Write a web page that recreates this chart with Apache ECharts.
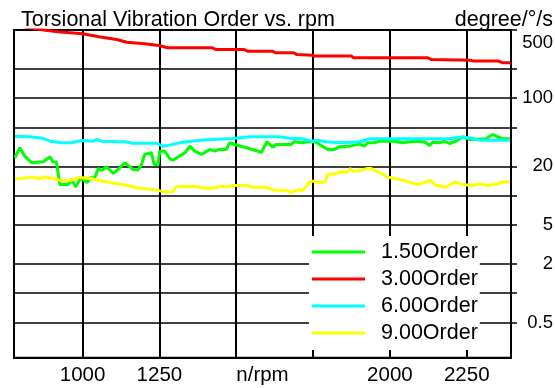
<!DOCTYPE html>
<html>
<head>
<meta charset="utf-8">
<script src="https://cdn.jsdelivr.net/npm/echarts@6/dist/echarts.min.js"></script>
<style>
html,body{margin:0;padding:0;background:#fff;}
#c{width:555px;height:388px;}
</style>
</head>
<body>
<div id="c"></div>
<script>
// ---- data ----
const titleText = 'Torsional Vibration Order vs. rpm';
const unitText = 'degree/°/s';
const xName = 'n/rpm';
const seriesNames = ['1.50Order', '3.00Order', '6.00Order', '9.00Order'];
const seriesColors = ['#00ff00', '#ff0000', '#00ffff', '#ffff00'];

const xMin = 777, xMax = 2394;
const yMin = 0.218, yMax = 500;
const xTickValues = [1000, 1250, 1500, 1750, 2000, 2250];
const xLabelValues = [1000, 1250, 2000, 2250];
const yTickValues = [0.5, 1, 2, 5, 10, 20, 50, 100, 200, 500];
const yLabelValues = [0.5, 2, 5, 20, 100, 500];

const rpm150 = [780,796,812,834,840,872,894,904,915,926,953,964,978,991,1002,1015,1026,1040,1051,1062,1078,1100,1116,1137,1164,1181,1192,1202,1224,1233,1246,1251,1267,1284,1294,1316,1333,1349,1365,1387,1414,1430,1446,1468,1479,1495,1533,1582,1600,1619,1630,1679,1690,1712,1733,1755,1771,1798,1820,1836,1869,1901,1917,1928,1950,1966,2009,2042,2080,2112,2129,2140,2161,2177,2194,2215,2237,2259,2313,2334,2351,2367,2390];
const val150 = [24.5,31.0,25.4,21.8,22.3,22.3,25.1,22.1,22.1,13.0,13.0,14.7,12.3,14.7,14.7,13.6,15.3,15.3,19.0,18.1,19.8,16.9,18.6,21.8,18.6,18.3,20.9,26.5,27.5,20.9,20.9,28.6,28.6,23.9,23.1,25.5,27.5,32.2,28.6,26.5,29.8,28.6,29.8,29.8,34.9,33.5,31.0,27.9,35.7,31.4,33.5,33.5,36.0,34.9,35.7,35.7,33.5,29.8,29.8,31.7,32.2,33.8,32.2,34.9,34.9,36.2,36.2,34.9,36.2,35.7,32.7,35.4,34.9,36.2,34.3,36.2,40.2,37.7,38.3,42.4,40.2,38.3,38.3];

const rpm300 = [777,830,880,920,1001,1053,1111,1144,1202,1248,1277,1420,1433,1524,1537,1619,1628,1687,1696,1748,1755,1875,1882,2122,2135,2262,2272,2353,2366,2393];
const val300 = [560,525,498,480,458,426,400,375,361,347,329,329,316,316,303,303,292,292,281,276,270,270,260,260,249,245,240,240,231,231];

const rpm600 = [780,829,872,894,932,964,997,1033,1045,1062,1137,1163,1240,1261,1284,1316,1381,1423,1488,1544,1641,1674,1716,1745,1761,1794,1836,1901,1934,2009,2194,2226,2259,2292,2390];
const val600 = [40.8,40.2,38.6,36.2,34.9,34.9,36.8,36.2,37.7,36.2,35.7,34.5,34.5,32.2,33.0,34.9,37.1,37.7,38.6,40.2,40.2,38.9,38.3,36.0,37.1,35.7,34.9,35.7,38.3,38.3,38.3,39.8,39.3,37.1,37.1];

const rpm900 = [780,812,840,856,872,894,926,959,991,1024,1056,1089,1132,1164,1186,1230,1262,1294,1305,1316,1349,1381,1408,1436,1452,1468,1490,1533,1555,1598,1625,1663,1679,1696,1717,1739,1750,1766,1788,1798,1826,1847,1858,1871,1880,1901,1928,1939,1966,1993,2020,2053,2091,2112,2129,2150,2183,2210,2237,2264,2292,2324,2346,2367,2390];
const val900 = [14.9,15.1,15.5,14.9,15.5,15.3,14.4,14.3,15.4,15.0,14.3,13.6,13.0,12.3,11.9,11.6,11.0,11.0,12.3,12.4,12.5,12.3,11.8,12.1,12.5,12.3,12.7,12.7,12.2,12.2,11.4,11.3,10.8,11.4,11.4,13.8,14.1,13.6,13.8,16.5,16.9,17.8,17.2,19.0,17.8,18.0,19.0,19.0,17.2,15.5,14.9,14.1,13.0,13.6,14.4,12.8,12.2,13.8,13.0,12.7,13.2,12.7,13.2,13.8,13.8];

// ---- build chart ----
const FONT = "'Liberation Sans', Arial, sans-serif";
const pair = (xs, ys) => xs.map((x, i) => [x, ys[i]]);
const allX = [rpm150, rpm300, rpm600, rpm900];
const allY = [val150, val300, val600, val900];

const chart = echarts.init(document.getElementById('c'), null, {renderer: 'canvas'});
chart.setOption({
  animation: false,
  backgroundColor: '#ffffff',
  title: [
    {text: titleText, left: 21, top: 9, padding: 0,
     textStyle: {fontFamily: FONT, fontSize: 21.5, fontWeight: 'normal', color: '#000'}},
    {text: unitText, right: 2, top: 9, padding: 0,
     textStyle: {fontFamily: FONT, fontSize: 21.5, fontWeight: 'normal', color: '#000'}}
  ],
  legend: {
    orient: 'vertical',
    left: 309, top: 236,
    padding: [5, 2, 6, 3],
    backgroundColor: '#ffffff',
    itemWidth: 53, itemHeight: 3,
    itemGap: 5,
    icon: 'rect',
    data: seriesNames,
    textStyle: {fontFamily: FONT, fontSize: 21.5, color: '#000', lineHeight: 22, padding: [0, 0, 0, 11]}
  },
  grid: {left: 14, right: 44, top: 30, bottom: 30.3, show: true, borderColor: '#000', borderWidth: 2,
         containLabel: false, outerBoundsMode: 'none'},
  xAxis: {
    type: 'value', min: xMin, max: xMax,
    name: xName, nameLocation: 'middle', nameGap: 7, nameMoveOverlap: false,
    nameTextStyle: {fontFamily: FONT, fontSize: 20.5, color: '#000', verticalAlign: 'top'},
    axisLine: {show: true, lineStyle: {color: '#000', width: 2}},
    axisTick: {show: false, customValues: xTickValues},
    axisLabel: {customValues: xLabelValues, margin: 7, fontFamily: FONT, fontSize: 20.5, color: '#000',
                formatter: v => String(v)},
    splitLine: {show: true, lineStyle: {color: '#000', width: 2}}
  },
  yAxis: {
    type: 'log', min: yMin, max: yMax, position: 'right',
    axisLine: {show: true, lineStyle: {color: '#000', width: 2}},
    axisTick: {show: true, inside: false, length: 6, customValues: yTickValues, lineStyle: {color: '#000', width: 1.5}},
    axisLabel: {
      customValues: yLabelValues, align: 'right', margin: 42,
      fontFamily: FONT, fontSize: 18.5, color: '#000',
      formatter: v => (Math.abs(v - yMax) < 1e-6 ? '{t|' + v + '}' : String(v)),
      rich: {t: {fontFamily: FONT, fontSize: 18.5, color: '#000', padding: [26, 0, 0, 0]}}
    },
    splitLine: {show: true, lineStyle: {color: '#000', width: 1.6}}
  },
  series: seriesNames.map((name, i) => ({
    name: name,
    type: 'line',
    data: pair(allX[i], allY[i]),
    showSymbol: false,
    symbol: 'none',
    clip: true,
    lineStyle: {color: seriesColors[i], width: 3},
    itemStyle: {color: seriesColors[i]},
    z: 3
  }))
});
</script>
</body>
</html>
